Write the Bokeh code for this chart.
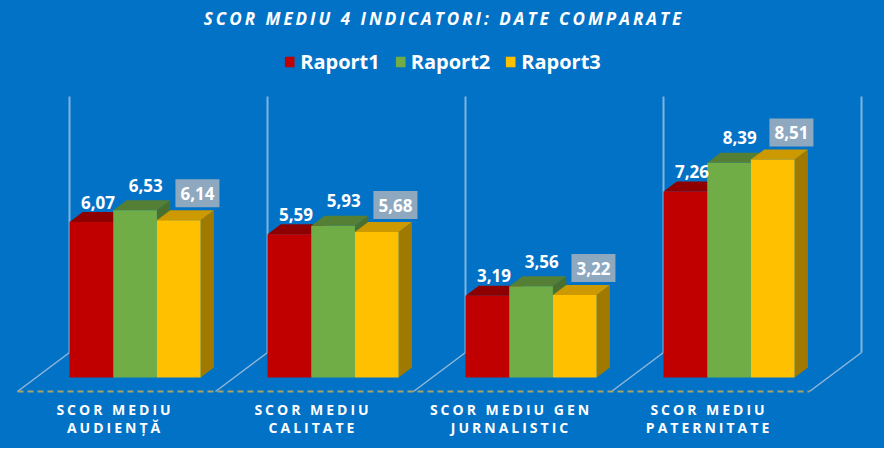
import numpy as np
from bokeh.plotting import figure
from bokeh.models import Legend, LegendItem, Label, Range1d
from bokeh.layouts import column
from bokeh.embed import file_html
from bokeh.resources import INLINE
from bokeh.core.properties import value

# ---------------- data ----------------
categories = ["SCOR MEDIU\nAUDIENȚĂ", "SCOR MEDIU\nCALITATE",
              "SCOR MEDIU GEN\nJURNALISTIC", "SCOR MEDIU\nPATERNITATE"]
series_names = ["Raport1", "Raport2", "Raport3"]
raport1 = [6.07, 5.59, 3.19, 7.26]
raport2 = [6.53, 5.93, 3.56, 8.39]
raport3 = [6.14, 5.68, 3.22, 8.51]
y_max = 10
title_text = "SCOR MEDIU 4 INDICATORI: DATE COMPARATE"

# ---------------- style ----------------
BG = "#0272C6"
FRONT = ["#C00000", "#70AD47", "#FFC000"]
TOP = ["#8E0000", "#547F35", "#CC9A00"]
SIDE = ["#7A0000", "#4A7030", "#A07A00"]
FONT = "Open Sans"
TITLE_LS = 3.0
CAT_LS = 3.0

W = 884
PX_CAT = 198.0          # pixels per category
PX_VAL = 25.6           # pixels per value unit
DX = 52 / PX_CAT        # floor depth vector (data units)
DY = 39 / PX_VAL
D0 = 0.36               # bar front depth (fraction of floor depth)
BD = 0.256              # bar depth (fraction)
GOFF = 33.3 / PX_CAT    # group offset inside category
BW = 43.7 / PX_CAT      # bar width

x_range = Range1d((8 - 25) / PX_CAT, (8 + W - 25) / PX_CAT)

def base_fig(h, xr, yr, **kw):
    f = figure(width=W, height=h, x_range=xr, y_range=yr,
               x_axis_type=None, y_axis_type=None, toolbar_location=None,
               output_backend="svg", min_border=0, **kw)
    f.background_fill_color = BG
    f.border_fill_color = BG
    f.outline_line_color = None
    f.grid.visible = False
    return f

# ---------------- title figure ----------------
tf = base_fig(40, Range1d(0, 1), Range1d(0, 1), styles={"letter-spacing": f"{TITLE_LS}px"})
tf.add_layout(Label(x=0.5, y=0.55, text=title_text, text_align="center",
                    text_baseline="middle", text_color="white",
                    text_font=FONT, text_font_size="17px",
                    text_font_style="bold italic",
                    x_offset=-(len(title_text) - 1) * TITLE_LS / 2))

# ---------------- main figure ----------------
H_MAIN = 356
p = base_fig(H_MAIN, x_range, Range1d((399 - 404) / PX_VAL, (399 - 48) / PX_VAL))

ncat = len(categories)
idx = np.arange(ncat + 1)
# back wall vertical lines
p.segment(x0=idx + DX, y0=np.full(ncat + 1, DY), x1=idx + DX, y1=np.full(ncat + 1, DY + y_max),
          line_color="#A9CBEB", line_alpha=0.75, line_width=2)
# floor diagonals
p.segment(x0=idx, y0=np.zeros(ncat + 1), x1=idx + DX, y1=np.full(ncat + 1, DY),
          line_color="#B4C8DC", line_alpha=0.8, line_width=1.5)
# front floor dashed line
p.segment(x0=[0], y0=[0], x1=[ncat], y1=[0], line_color="#A3A46E",
          line_width=2.2, line_dash="6 4")

values = [raport1, raport2, raport3]
side_xs, side_ys, side_c = [], [], []
top_xs, top_ys, top_c = [], [], []
fronts = {s: ([], []) for s in range(3)}
lab = {s: ([], [], []) for s in range(3)}
ddx, ddy = BD * DX, BD * DY
for i in range(ncat):
    for s in range(3):
        v = values[s][i]
        xl = i + GOFF + s * BW + D0 * DX
        xr = xl + BW
        yb = D0 * DY
        yt = yb + v
        side_xs.append([xr, xr + ddx, xr + ddx, xr]); side_ys.append([yb, yb + ddy, yt + ddy, yt]); side_c.append(SIDE[s])
        top_xs.append([xl, xr, xr + ddx, xl + ddx]); top_ys.append([yt, yt, yt + ddy, yt + ddy]); top_c.append(TOP[s])
        fronts[s][0].append([xl, xr, xr, xl]); fronts[s][1].append([yb, yb, yt, yt])
        lab[s][0].append(xl + BW / 2 + ddx / 2)
        lab[s][1].append(yt + ddy)
        lab[s][2].append(f"{v:.2f}".replace(".", ","))

p.patches(xs=side_xs, ys=side_ys, fill_color=side_c, line_color=None)
p.patches(xs=top_xs, ys=top_ys, fill_color=top_c, line_color=None)
front_r = []
for s in range(3):
    r = p.patches(xs=fronts[s][0], ys=fronts[s][1], fill_color=FRONT[s], line_color=None)
    front_r.append(r)

# data labels
lab_dx = [0, 4, 12]       # px
lab_dy = [10, 15, 17]     # px above back edge of top
for s in range(3):
    lx = np.array(lab[s][0]) + lab_dx[s] / PX_CAT
    ly = np.array(lab[s][1]) + lab_dy[s] / PX_VAL
    if s == 2:
        p.rect(x=lx, y=ly, width=44, height=28, width_units="screen", height_units="screen",
               fill_color="#8EA8C0", line_color=None)
    p.text(x=lx, y=ly, text=lab[s][2], text_align="center", text_baseline="middle",
           text_color="white", text_font=value(FONT), text_font_size="17px",
           text_font_style="bold")

legend = Legend(items=[LegendItem(label=series_names[s], renderers=[front_r[s]]) for s in range(3)],
                orientation="horizontal", location="top_center",
                background_fill_alpha=0, border_line_color=None,
                label_text_color="white", label_text_font=FONT,
                label_text_font_size="20px", label_text_font_style="bold",
                glyph_width=12, glyph_height=13, label_standoff=5, spacing=14,
                padding=0, margin=8)
p.add_layout(legend)

# ---------------- bottom labels figure ----------------
bf = base_fig(52, x_range, Range1d((399 - 456) / PX_VAL, (399 - 404) / PX_VAL),
              styles={"letter-spacing": f"{CAT_LS}px"})
lines = [c.split("\n") for c in categories]
for row, page_y in enumerate([417, 435]):
    txt = [l[row] for l in lines]
    bf.text(x=np.arange(ncat) + 0.485, y=np.full(ncat, (399 - page_y) / PX_VAL), text=txt,
            x_offset=[-(len(t) - 1) * CAT_LS / 2 for t in txt],
            text_align="center", text_baseline="middle", text_color="white",
            text_font=value(FONT), text_font_size="14px", text_font_style="bold")

layout = column(tf, p, bf, spacing=0, styles={"background-color": BG})
open("out.html", "w").write(file_html(layout, INLINE))
